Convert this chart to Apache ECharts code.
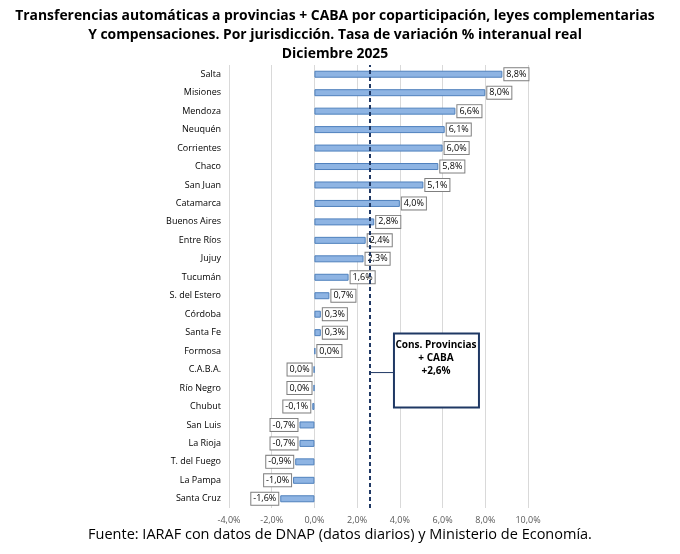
<!DOCTYPE html>
<html><head><meta charset="utf-8">
<script src="https://cdn.jsdelivr.net/npm/echarts@6/dist/echarts.min.js"></script>
<style>html,body{margin:0;background:#fff}#container{width:680px;height:554px}</style>
</head><body><div id="container"></div>
<script>
var dom = document.getElementById("container");
var myChart = echarts.init(dom);

// Santa Cruz (abajo) -> Salta (arriba)
var provincias = ['Santa Cruz','La Pampa','T. del Fuego','La Rioja','San Luis','Chubut','Río Negro','C.A.B.A.','Formosa','Santa Fe','Córdoba','S. del Estero','Tucumán','Jujuy','Entre Ríos','Buenos Aires','Catamarca','San Juan','Chaco','Corrientes','Neuquén','Mendoza','Misiones','Salta'];
var valores = [-1.6,-1.0,-0.9,-0.7,-0.7,-0.1,-0.04,-0.03,0.04,0.3,0.3,0.7,1.6,2.3,2.4,2.8,4.0,5.1,5.8,6.0,6.1,6.6,8.0,8.8];
var etiquetas = ['-1,6%','-1,0%','-0,9%','-0,7%','-0,7%','-0,1%','0,0%','0,0%','0,0%','0,3%','0,3%','0,7%','1,6%','2,3%','2,4%','2,8%','4,0%','5,1%','5,8%','6,0%','6,1%','6,6%','8,0%','8,8%'];
var promedio = 2.6;

var data = valores.map(function (v, i) {
    return {
        value: v,
        label: { position: v < 0 ? 'left' : 'right', formatter: etiquetas[i] }
    };
});

var option = {
    animation: false,
    title: {
        text: 'Transferencias automáticas a provincias + CABA por coparticipación, leyes complementarias\nY compensaciones. Por jurisdicción. Tasa de variación % interanual real\nDiciembre 2025',
        left: 330, top: 2, textAlign: 'center',
        textStyle: { fontFamily: 'Open Sans', fontSize: 13.9, fontWeight: 'bold', color: '#000', lineHeight: 19 }
    },
    grid: { left: 229, right: 152, top: 65, bottom: 46 },
    xAxis: {
        type: 'value', min: -4, max: 10, interval: 2,
        axisLabel: { formatter: function (v) { return v.toFixed(1).replace('.', ',') + '%'; }, color: '#595959', fontSize: 9, fontFamily: 'Open Sans' },
        splitLine: { lineStyle: { color: '#d9d9d9' } },
        axisLine: { show: false }, axisTick: { show: false }
    },
    yAxis: {
        type: 'category', data: provincias,
        axisLine: { show: false }, axisTick: { show: false },
        axisLabel: { color: '#000', fontSize: 9, fontFamily: 'Open Sans', margin: 8 }
    },
    series: [{
        type: 'bar', data: data, barWidth: 7,
        itemStyle: { color: '#8eb4e3', borderColor: '#4f81bd', borderWidth: 1 },
        label: {
            show: true, fontSize: 9, fontFamily: 'Open Sans', color: '#000',
            backgroundColor: '#fff', borderColor: '#7f7f7f', borderWidth: 1,
            padding: [2, 2, 1, 2], distance: 2
        },
        markLine: {
            silent: true, symbol: 'none', label: { show: false },
            lineStyle: { color: '#1f3864', type: [4, 3], width: 2 },
            data: [{ xAxis: promedio }]
        }
    }]
};
myChart.setOption(option);

// recuadro del promedio
var p = myChart.convertToPixel({ xAxisIndex: 0, yAxisIndex: 0 }, [promedio, 'C.A.B.A.']);
myChart.setOption({
    graphic: [
        { type: 'line', shape: { x1: p[0], y1: p[1] + 3, x2: p[0] + 24, y2: p[1] + 3 }, style: { stroke: '#1f3864', lineWidth: 1 } },
        { type: 'rect', shape: { x: p[0] + 24, y: p[1] - 36, width: 85, height: 74 }, style: { fill: '#fff', stroke: '#1f3864', lineWidth: 2 } },
        { type: 'text', x: p[0] + 66, y: p[1] - 31, style: { text: 'Cons. Provincias\n+ CABA\n+2,6%', align: 'center', fontFamily: 'Open Sans', fontSize: 10, fontWeight: 'bold', lineHeight: 13, fill: '#000' } },
        { type: 'text', left: 'center', top: 527, style: { text: 'Fuente: IARAF con datos de DNAP (datos diarios) y Ministerio de Economía.', fontFamily: 'Open Sans', fontSize: 14.5, fill: '#000' } }
    ]
});

window.onresize = function () { myChart.resize(); };
</script></body></html>
